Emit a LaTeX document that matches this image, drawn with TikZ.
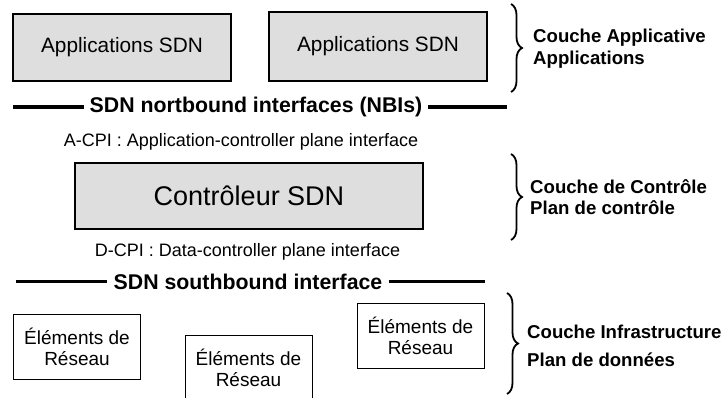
\documentclass[tikz,border=0pt]{standalone}
\usepackage{fontspec}
\setmainfont{Liberation Sans}
\usetikzlibrary{decorations.pathreplacing}
\definecolor{boxgray}{RGB}{222,222,222}
\begin{document}
\begin{tikzpicture}[x=1pt,y=-1pt,
  graybox/.style={draw=black,line width=1.2pt,fill=boxgray,inner sep=0pt},
  elembox/.style={draw=black,line width=1pt,fill=white,inner sep=0pt,
    minimum width=127pt,minimum height=65pt,align=center,
    font=\fontsize{19}{21}\selectfont},
  ifacetxt/.style={inner sep=0pt,font=\fontsize{18}{21}\selectfont},
  busline/.style={line width=3.2pt},
  bustxt/.style={inner xsep=6pt,inner ysep=0pt,font=\bfseries\fontsize{21.3}{24}\selectfont},
  bracedec/.style={decorate,decoration={brace,amplitude=11pt},line width=1.8pt},
  layertxt/.style={anchor=west,align=left,inner sep=0pt,font=\bfseries\fontsize{18.6}{22}\selectfont}]
\useasboundingbox (0,0) rectangle (728,398);
\clip (0,0) rectangle (728,398);
% application layer
\node[graybox,minimum width=218pt,minimum height=67pt,font=\fontsize{20.8}{24}\selectfont] (app1) at (122,47.5) {Applications SDN};
\node[graybox,minimum width=218pt,minimum height=69pt,font=\fontsize{20.8}{24}\selectfont] (app2) at (378,46.5) {Applications SDN};
% NBI
\node[bustxt] (nbi) at (256,107) {SDN nortbound interfaces (NBIs)};
\coordinate (nbiL) at (13,107);
\coordinate (nbiR) at (507,107);
\draw[busline] (nbiL) -- (nbi.west);
\draw[busline] (nbi.east) -- (nbiR);
\node[ifacetxt] (acpi) at (241,142) {A-CPI : Application-controller plane interface};
% controller
\node[graybox,minimum width=348pt,minimum height=66pt,font=\fontsize{27}{30}\selectfont] (ctrl) at (249,196) {Contrôleur SDN};
\node[ifacetxt] (dcpi) at (247.5,252) {D-CPI : Data-controller plane interface};
% SBI
\node[bustxt] (sbi) at (248,281.5) {SDN southbound interface};
\coordinate (sbiL) at (16,281.5);
\coordinate (sbiR) at (485,281.5);
\draw[busline] (sbiL) -- (sbi.west);
\draw[busline] (sbi.east) -- (sbiR);
% network elements
\node[elembox] (ne1) at (77,346.5) {Éléments de\\Réseau};
\node[elembox] (ne2) at (248.5,368) {Éléments de\\Réseau};
\node[elembox] (ne3) at (420.5,335.5) {Éléments de\\Réseau};
% braces
\coordinate (b1t) at (511,4);
\coordinate (b1b) at (511,92);
\draw[bracedec] (b1t) -- (b1b);
\node[layertxt] (l1) at (533,49) {Couche Applicative\\Applications};
\coordinate (b2t) at (511,154);
\coordinate (b2b) at (511,240);
\draw[bracedec] (b2t) -- (b2b);
\node[layertxt,font=\bfseries\fontsize{18.6}{20.5}\selectfont] (l2) at (530,197) {Couche de Contrôle\\Plan de contrôle};
\coordinate (b3t) at (507,293);
\coordinate (b3b) at (507,394);
\draw[bracedec] (b3t) -- (b3b);
\node[layertxt,font=\bfseries\fontsize{18.6}{28}\selectfont] (l3) at (527,346) {Couche Infrastructure\\Plan de données};
\end{tikzpicture}
\end{document}
